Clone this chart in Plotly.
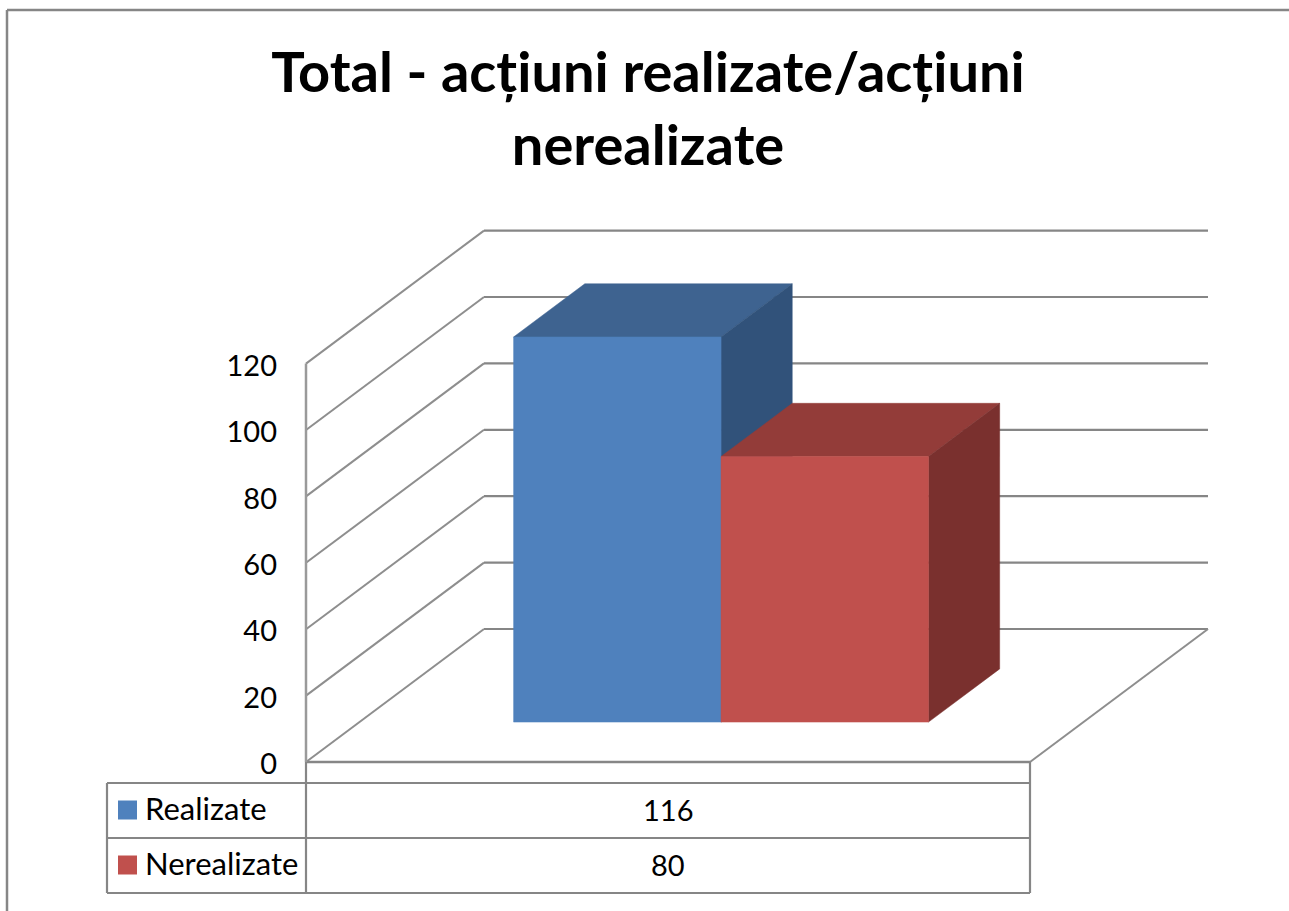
import plotly.graph_objects as go

# ---- data ----
series_names = ["Realizate", "Nerealizate"]
series_values = [116, 80]
tick_values = [0, 20, 40, 60, 80, 100, 120]
title_text = "Total - acțiuni realizate/acțiuni<br>nerealizate"

front_colors = ["#4F81BD", "#C0504D"]
top_colors = ["#3E6390", "#933C39"]
side_colors = ["#31527A", "#7A302E"]
line_color = "#868686"

# ---- layout constants ----
W, H = 1289, 911
PX_PER_U = 724.0     # one category across the floor
PX_PER_V = 3.32      # one value unit
X0, Y0 = 306.0, 762.0
DEPTH_U = 178.0 / PX_PER_U   # full depth of box in category units
DEPTH_V = 133.0 / PX_PER_V   # full depth of box in value units
BAR_START = 0.2130
BAR_WIDTH = 0.2865
BAR_D0, BAR_D1 = 0.30, 0.70
AXIS_TOP = 120


def px(u, d=0.0):
    return u + d * DEPTH_U


def py(v, d=0.0):
    return v + d * DEPTH_V


def pfx(p):
    return p / W


def pfy(p):
    return 1 - p / H


fig = go.Figure()


def seg(xs, ys, width=1.6, color=line_color):
    fig.add_trace(go.Scatter(x=xs, y=ys, mode="lines", line=dict(color=color, width=width),
                             hoverinfo="skip", showlegend=False))


def poly(xs, ys, color):
    fig.add_trace(go.Scatter(x=xs + xs[:1], y=ys + ys[:1], mode="lines", fill="toself",
                             fillcolor=color, line=dict(color=color, width=0.5),
                             hoverinfo="skip", showlegend=False))


# back wall gridlines and left wall diagonals
for i, v in enumerate(tick_values):
    seg([px(0, 1), px(1, 1)], [py(v, 1), py(v, 1)], 2.2)
    seg([px(0, 0), px(0, 1)], [py(v, 0), py(v, 1)], 2, "#8e8e8e")

# floor and front axis
seg([px(0), px(1)], [py(0), py(0)], 2.5)
seg([px(1), px(1, 1)], [py(0), py(0, 1)], 2, "#8e8e8e")
seg([px(0), px(0)], [py(0), py(AXIS_TOP)], 2.5, "#9a9a9a")

# bars
for i, v in enumerate(series_values):
    u0 = BAR_START + i * BAR_WIDTH
    u1 = u0 + BAR_WIDTH
    poly([px(u0, BAR_D0), px(u1, BAR_D0), px(u1, BAR_D1), px(u0, BAR_D1)],
         [py(v, BAR_D0), py(v, BAR_D0), py(v, BAR_D1), py(v, BAR_D1)], top_colors[i])
    poly([px(u1, BAR_D0), px(u1, BAR_D1), px(u1, BAR_D1), px(u1, BAR_D0)],
         [py(0, BAR_D0), py(0, BAR_D1), py(v, BAR_D1), py(v, BAR_D0)], side_colors[i])
    poly([px(u0, BAR_D0), px(u1, BAR_D0), px(u1, BAR_D0), px(u0, BAR_D0)],
         [py(0, BAR_D0), py(0, BAR_D0), py(v, BAR_D0), py(v, BAR_D0)], front_colors[i])

# ---- paper-space furniture: frame, data table ----
shapes = []


def hline(y, x0, x1, w=2.2):
    shapes.append(dict(type="line", xref="paper", yref="paper", x0=pfx(x0), x1=pfx(x1),
                       y0=pfy(y), y1=pfy(y), line=dict(color=line_color, width=w)))


def vline(x, y0, y1, w=2.2):
    shapes.append(dict(type="line", xref="paper", yref="paper", x0=pfx(x), x1=pfx(x),
                       y0=pfy(y0), y1=pfy(y1), line=dict(color=line_color, width=w)))


hline(10, 7, W, 2.5)
vline(7, 10, H, 2.5)
TAB_L, TAB_M, TAB_R = 107, 306, 1030
ROWS = [783, 838, 893]
for y in ROWS:
    hline(y, TAB_L, TAB_R)
vline(TAB_L, ROWS[0], ROWS[-1])
vline(TAB_M, Y0, ROWS[-1])
vline(TAB_R, Y0, ROWS[-1])

annotations = []
for i, (name, val) in enumerate(zip(series_names, series_values)):
    cy = (ROWS[i] + ROWS[i + 1]) / 2
    shapes.append(dict(type="rect", xref="paper", yref="paper", x0=pfx(118), x1=pfx(137),
                       y0=pfy(cy - 10), y1=pfy(cy + 9), fillcolor=front_colors[i], line=dict(width=0)))
    annotations.append(dict(xref="paper", yref="paper", x=pfx(143), y=pfy(cy - 3), text=name,
                            showarrow=False, xanchor="left", yanchor="middle",
                            font=dict(family="Lato", size=31, color="black")))
    annotations.append(dict(xref="paper", yref="paper", x=pfx((TAB_M + TAB_R) / 2), y=pfy(cy - 1), text=str(val),
                            showarrow=False, xanchor="center", yanchor="middle",
                            font=dict(family="Lato", size=29, color="black")))

fig.update_layout(
    width=W, height=H, autosize=False, margin=dict(l=0, r=0, t=0, b=0),
    paper_bgcolor="white", plot_bgcolor="white", showlegend=False,
    shapes=shapes, annotations=annotations,
    title=dict(text=title_text, x=648 / W, xanchor="center", y=1 - 92 / H, yanchor="top",
               font=dict(family="Lato", size=56, color="black", weight="bold")),
    xaxis=dict(range=[-X0 / PX_PER_U, (W - X0) / PX_PER_U], visible=False, fixedrange=True),
    yaxis=dict(range=[(Y0 - H) / PX_PER_V, Y0 / PX_PER_V], anchor="free", position=277 / W,
               tickvals=tick_values, ticktext=[str(t) for t in tick_values], ticks="",
               ticklabelshift=2,
               showgrid=False, zeroline=False, showline=False, fixedrange=True,
               tickfont=dict(family="Lato", size=29, color="black")),
)

fig.write_html("out.html", config=dict(displayModeBar=False),
               post_script="document.body.style.margin='0';document.body.style.overflow='hidden';")
